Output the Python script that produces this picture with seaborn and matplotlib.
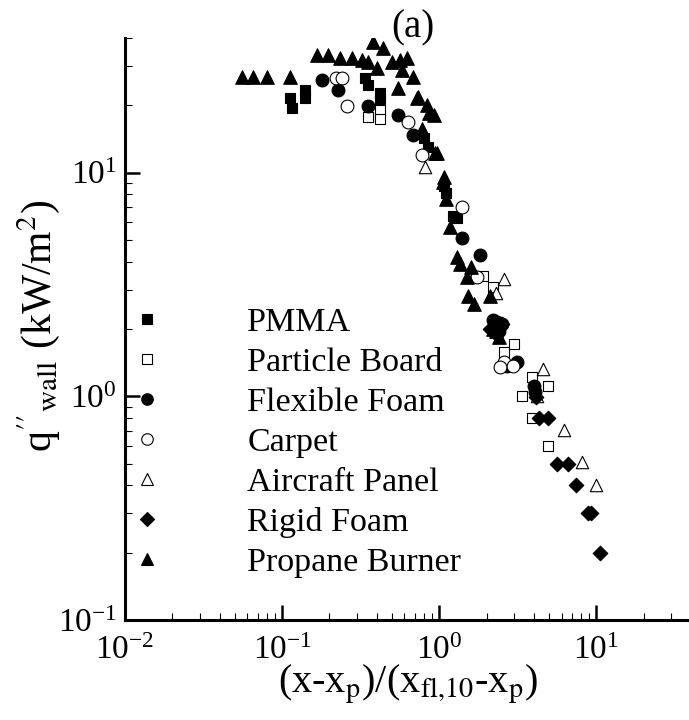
import numpy as np
import pandas as pd
import matplotlib
matplotlib.use('Agg')
import matplotlib.pyplot as plt
from matplotlib.lines import Line2D
import seaborn as sns

# data (x = (x-xp)/(xfl,10-xp), y = q''wall kW/m2)
pmma_x = [0.112, 0.115, 0.14, 0.14, 0.338, 0.35, 0.42, 0.42, 0.80, 0.85, 1.07, 1.11, 1.23, 1.30]
pmma_y = [21.6, 19.5, 23.5, 21.6, 26.5, 24.6, 22.7, 21.2, 14.3, 13.0, 8.7, 8.1, 6.4, 6.3]

particle_x = [0.35, 0.42, 0.42, 1.9, 2.2, 2.6, 3.0, 3.9, 4.9, 3.38, 3.9, 4.9]
particle_y = [17.8, 19.1, 17.3, 3.46, 3.07, 1.58, 1.71, 1.22, 1.11, 1.0, 0.80, 0.60]

flex_x = [0.18, 0.227, 0.35, 0.55, 0.68, 1.40, 1.82, 2.2, 2.34, 2.5, 2.2, 2.4, 2.7, 3.14, 4.0, 4.05]
flex_y = [26.0, 23.5, 19.8, 18.2, 14.8, 5.1, 4.3, 2.0, 2.14, 2.1, 2.2, 1.95, 1.36, 1.42, 1.11, 1.05]

carpet_x = [0.22, 0.24, 0.26, 0.63, 0.78, 1.40, 1.75, 2.6, 2.95, 2.45]
carpet_y = [26.5, 26.5, 19.8, 16.9, 12.0, 7.05, 3.43, 1.42, 1.36, 1.35]

aircraft_x = [0.81, 2.3, 2.6, 4.2, 4.6, 6.25, 8.1, 10.0]
aircraft_y = [10.6, 2.9, 3.33, 1.0, 1.32, 0.71, 0.51, 0.40]

rigid_x = [2.1, 2.3, 2.5, 4.1, 4.3, 4.9, 5.6, 6.6, 7.4, 8.8, 9.3, 10.6]
rigid_y = [2.0, 1.9, 2.1, 0.99, 0.80, 0.80, 0.50, 0.50, 0.40, 0.30, 0.30, 0.20]

propane_x = [0.0556, 0.065, 0.080, 0.112, 0.167, 0.196, 0.234, 0.279, 0.324, 0.353,
             0.38, 0.44, 0.40, 0.50, 0.565, 0.625, 0.58, 0.68, 0.55, 0.72, 0.84, 0.92,
             0.73, 0.78, 0.86, 0.94, 0.97, 1.06, 1.07, 1.11, 1.17, 1.30, 1.36, 1.5,
             1.53, 1.6, 1.67, 2.1, 2.2, 2.3, 2.25, 2.4]
propane_y = [26.8, 26.8, 26.8, 26.8, 33.6, 33.6, 32.6, 32.6, 31.9, 31.3,
             38.5, 36.2, 29.4, 31.3, 32.0, 32.6, 28.8, 26.8, 23.9, 21.6, 20.1, 18.2,
             21.8, 15.6, 18.5, 12.3, 12.3, 9.1, 9.6, 7.6, 5.7, 4.2, 3.9, 3.4,
             2.8, 3.8, 2.6, 2.8, 2.0, 1.95, 2.1, 1.85]

labels = ['PMMA', 'Particle Board', 'Flexible Foam', 'Carpet',
          'Aircraft Panel', 'Rigid Foam', 'Propane Burner']

sns.set_style('ticks')
plt.rcParams['font.family'] = ['Liberation Serif', 'DejaVu Serif']
plt.rcParams['mathtext.fontset'] = 'stix'
for key in ['text.color', 'axes.labelcolor', 'xtick.color', 'ytick.color', 'axes.edgecolor']:
    plt.rcParams[key] = 'black'

fig = plt.figure(figsize=(6.89, 7.2), dpi=100)
ax = fig.add_axes([0.1814, 0.1389, 0.8215, 0.8083])

# (x, y, marker, face, size)
series = [
    (pmma_x, pmma_y, 's', 'black', 55),
    (particle_x, particle_y, 's', 'white', 55),
    (flex_x, flex_y, 'o', 'black', 85),
    (carpet_x, carpet_y, 'o', 'white', 85),
    (aircraft_x, aircraft_y, '^', 'white', 80),
    (rigid_x, rigid_y, 'D', 'black', 55),
    (propane_x, propane_y, '^', 'black', 95),
]
for sx, sy, mk, fc, sz in series:
    sns.scatterplot(x=sx, y=sy, marker=mk, color=fc, edgecolor='black',
                    linewidth=0.8, s=sz, ax=ax, zorder=3)

ax.set_xscale('log')
ax.set_yscale('log')
ax.set_xlim(0.01, 40)
ax.set_ylim(0.1, 40)

sns.despine(ax=ax)
for side in ['left', 'bottom']:
    ax.spines[side].set_linewidth(2.2)
ax.tick_params(which='major', direction='in', length=11, width=1.8, labelsize=24)
ax.tick_params(which='minor', direction='in', length=5, width=0.8)
ax.tick_params(axis='x', pad=11)
ax.tick_params(axis='y', pad=6)

ax.set_xlabel(r'(x-x$_{\mathrm{p}}$)/(x$_{\mathrm{fl{,}10}}$-x$_{\mathrm{p}}$)', fontsize=29, labelpad=-2)
ax.set_ylabel(r"q$''_{\mathrm{wall}}$ (kW/m$^{2}$)", fontsize=30)
ax.yaxis.set_label_coords(-0.112, 0.505)

fig.text(413 / 689, 1 - 28 / 720, '(a)', ha='center', va='center', fontsize=28)

handles = []
for sx, sy, mk, fc, sz in series:
    handles.append(Line2D([], [], linestyle='none', marker=mk, markerfacecolor=fc,
                          markeredgecolor='black', markeredgewidth=0.8,
                          markersize=np.sqrt(sz) * 0.9))
ax.legend(handles, labels, loc='upper left', bbox_to_anchor=(113 / 689, 1 - 307 / 720),
          bbox_transform=fig.transFigure, frameon=False, fontsize=24.5,
          handlelength=2.0, handletextpad=1.95, labelspacing=0.27,
          borderpad=0, borderaxespad=0)

fig.savefig('out.png', dpi=100)
